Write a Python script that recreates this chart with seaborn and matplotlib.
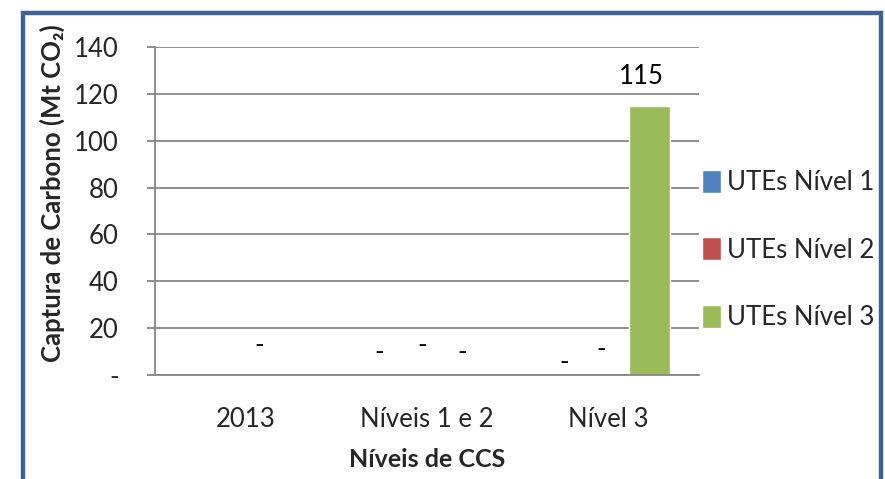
import numpy as np
import pandas as pd
import matplotlib
matplotlib.use('Agg')
import matplotlib.pyplot as plt
import matplotlib.patches as mpatches
import seaborn as sns

categories = ['2013', 'Níveis 1 e 2', 'Nível 3']
series = ['UTEs Nível 1', 'UTEs Nível 2', 'UTEs Nível 3']
nivel1 = [0, 0, 0]
nivel2 = [0, 0, 0]
nivel3 = [0, 0, 115]
colors = ['#4F81BD', '#C0504D', '#9BBB59']

# data labels as shown in the chart: (category index, x offset, y pos, text)
labels = [
    (0, 0.077, 12.4, '-'),
    (1, -0.265, 9.8, '-'),
    (1, -0.028, 12.5, '-'),
    (1, 0.196, 9.8, '-'),
    (2, -0.244, 5.2, '-'),
    (2, -0.042, 11.0, '-'),
    (2, 0.183, 127.2, '115'),
]

df = pd.DataFrame({
    'Nível': categories * 3,
    'Série': [s for s in series for _ in categories],
    'Valor': nivel1 + nivel2 + nivel3,
})

sns.set_style('white')
plt.rcParams['font.family'] = ['Lato', 'DejaVu Sans']
grey = '#868686'
fs = 18.5

fig = plt.figure(figsize=(8.85, 4.79), dpi=100)
ax = fig.add_axes([155 / 885, 1 - 375 / 479, 544 / 885, 328 / 479])

sns.barplot(data=df, x='Nível', y='Valor', hue='Série', palette=colors,
            width=0.68, gap=0, saturation=1, ax=ax, legend=True)

for i, dx, y, txt in labels:
    ax.text(i + dx, y, txt, ha='center', va='center', fontsize=fs, color='black')

ax.set_ylim(0, 140)
ax.set_xlim(-0.5, 2.5)
ax.set_yticks(np.arange(0, 141, 20))
ax.set_yticklabels(['-'] + [str(v) for v in range(20, 141, 20)])
ax.yaxis.grid(True, color=grey, linewidth=1.3)
ax.set_axisbelow(True)

ax.set_xticks(range(3))
ax.set_xticklabels(categories)
ax.set_xticks([-0.5, 0.5, 1.5, 2.5], minor=True)
ax.tick_params(axis='x', which='major', length=0, pad=23, labelsize=fs)
ax.tick_params(axis='x', which='minor', length=8, width=1.3, color=grey, direction='out')
ax.tick_params(axis='y', length=6, width=1.3, color=grey, direction='out', pad=20, labelsize=fs, left=True)

for s in ['top', 'right']:
    ax.spines[s].set_visible(False)
for s in ['left', 'bottom']:
    ax.spines[s].set_color(grey)
    ax.spines[s].set_linewidth(1.3)

ax.set_ylabel('Captura de Carbono (Mt CO₂)', fontsize=18.5, fontweight='bold')
ax.set_xlabel('Níveis de CCS', fontsize=18, fontweight='bold')
ax.yaxis.set_label_coords(-0.165, 0.555)
ax.xaxis.set_label_coords(0.5, -0.224)

ax.legend(loc='center left', bbox_to_anchor=(1.0, 0.381), frameon=False,
          fontsize=fs, handlelength=0.75, handleheight=1.0, handletextpad=0.25,
          labelspacing=1.65, borderaxespad=0, borderpad=0.1)

fig.patches.append(mpatches.Rectangle((22.5 / 885, -0.1), (881 - 22.5) / 885, 1.1 - 13 / 479,
                                      transform=fig.transFigure, fill=False,
                                      edgecolor='#3F6391', linewidth=3.2, clip_on=False))

fig.savefig('out.png', dpi=100)
